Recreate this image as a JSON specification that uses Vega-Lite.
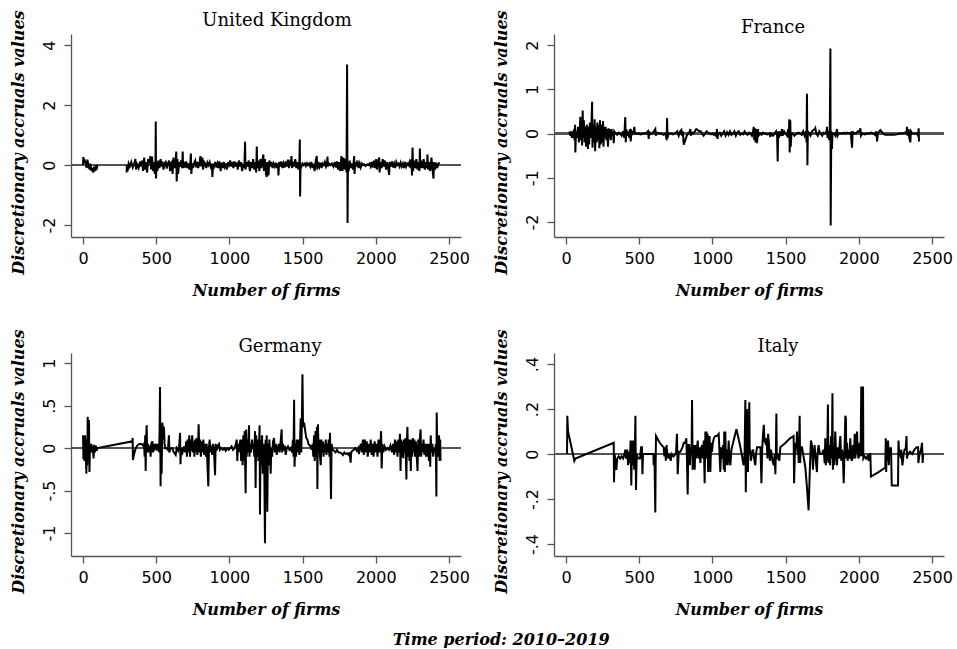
{
  "$schema": "https://vega.github.io/schema/vega-lite/v6.json",
  "background": "white",
  "padding": {"left": 9, "top": 9, "right": 0, "bottom": 0},
  "bounds": "flush",
  "columns": 2,
  "spacing": {"row": 116, "column": 93},
  "config": {
    "view": {"stroke": null},
    "axis": {
      "grid": false,
      "domainColor": "#555555",
      "domainWidth": 1.3,
      "tickColor": "#555555",
      "tickWidth": 1.3,
      "tickSize": 7,
      "labelFont": "DejaVu Sans",
      "labelFontSize": 16,
      "labelColor": "#000000",
      "titleFont": "DejaVu Serif",
      "titleFontSize": 16,
      "titleFontStyle": "italic",
      "titleFontWeight": "bold",
      "titleColor": "#000000"
    },
    "axisX": {"labelPadding": 6, "titlePadding": 16, "format": "d"},
    "axisY": {"labelAngle": -90, "labelAlign": "center", "labelBaseline": "bottom", "labelPadding": 7, "titlePadding": 15, "titleY": 108},
    "title": {"font": "DejaVu Serif", "fontSize": 18, "fontWeight": "normal", "color": "#000000", "anchor": "middle", "baseline": "alphabetic"}
  },
  "title": {"text": "Time period: 2010–2019", "orient": "bottom", "anchor": "middle", "dx": 20, "font": "DejaVu Serif", "fontSize": 16, "fontStyle": "italic", "fontWeight": "bold", "offset": 28, "baseline": "alphabetic"},
  "datasets": {
    "uk": [
      {"x":0,"y":0.0},{"x":2,"y":0.27},{"x":5,"y":0.1},{"x":12,"y":0.15},{"x":18,"y":0.05},{"x":25,"y":-0.1},{"x":30,"y":0.18},{"x":38,"y":-0.05},{"x":45,"y":-0.15},{"x":50,"y":0.05},{"x":58,"y":-0.2},{"x":65,"y":-0.1},{"x":70,"y":-0.25},{"x":75,"y":-0.05},{"x":82,"y":-0.2},{"x":88,"y":0.0},{"x":95,"y":-0.1},{"x":100,"y":0.0},
      {"x":150,"y":null},
      {"x":298,"y":-0.25},{"x":300,"y":0.0},{"x":305,"y":-0.2},{"x":312,"y":0.05},{"x":320,"y":-0.05},{"x":330,"y":0.1},{"x":340,"y":-0.08},{"x":350,"y":0.05},{"x":358,"y":0.2},{"x":362,"y":-0.15},{"x":370,"y":0.02},{"x":380,"y":-0.1},{"x":390,"y":0.12},{"x":398,"y":-0.05},{"x":405,"y":0.15},{"x":410,"y":-0.2},{"x":418,"y":0.25},{"x":422,"y":-0.15},{"x":430,"y":0.1},{"x":438,"y":-0.25},{"x":445,"y":0.2},{"x":452,"y":0.05},{"x":460,"y":0.3},{"x":465,"y":-0.15},{"x":472,"y":0.28},{"x":478,"y":-0.2},{"x":485,"y":0.1},{"x":490,"y":-0.3},{"x":495,"y":0.0},{"x":497,"y":1.45},{"x":499,"y":-0.45},{"x":502,"y":0.1},{"x":508,"y":-0.2},{"x":515,"y":0.15},{"x":522,"y":-0.1},{"x":530,"y":0.2},{"x":535,"y":-0.05},{"x":542,"y":0.12},{"x":550,"y":-0.15},{"x":557,"y":0.05},{"x":565,"y":0.1},{"x":572,"y":-0.12},{"x":580,"y":0.05},{"x":588,"y":0.15},{"x":595,"y":-0.2},{"x":600,"y":0.05},{"x":607,"y":0.1},{"x":612,"y":-0.3},{"x":618,"y":0.25},{"x":625,"y":-0.1},{"x":632,"y":0.1},{"x":637,"y":0.45},{"x":640,"y":-0.55},{"x":645,"y":0.2},{"x":650,"y":-0.3},{"x":657,"y":0.1},{"x":663,"y":-0.05},{"x":670,"y":0.15},{"x":677,"y":-0.1},{"x":681,"y":0.45},{"x":684,"y":-0.1},{"x":690,"y":0.1},{"x":697,"y":-0.08},{"x":705,"y":0.12},{"x":712,"y":-0.1},{"x":720,"y":0.05},{"x":727,"y":-0.15},{"x":733,"y":0.1},{"x":737,"y":0.38},{"x":740,"y":-0.3},{"x":745,"y":0.05},{"x":752,"y":-0.1},{"x":760,"y":0.08},{"x":767,"y":0.15},{"x":773,"y":-0.08},{"x":780,"y":0.1},{"x":787,"y":-0.1},{"x":795,"y":0.05},{"x":802,"y":0.3},{"x":808,"y":-0.05},{"x":815,"y":0.25},{"x":820,"y":-0.15},{"x":828,"y":0.1},{"x":835,"y":0.05},{"x":842,"y":-0.1},{"x":850,"y":0.08},{"x":857,"y":0.0},{"x":865,"y":0.1},{"x":872,"y":-0.05},{"x":880,"y":0.05},{"x":884,"y":-0.4},{"x":888,"y":0.05},{"x":895,"y":-0.05},{"x":903,"y":0.1},{"x":910,"y":-0.08},{"x":918,"y":0.05},{"x":925,"y":-0.1},{"x":932,"y":0.12},{"x":940,"y":-0.2},{"x":947,"y":0.08},{"x":955,"y":-0.1},{"x":962,"y":0.1},{"x":968,"y":-0.05},{"x":975,"y":0.05},{"x":982,"y":-0.15},{"x":990,"y":0.1},{"x":997,"y":0.0},{"x":1005,"y":0.15},{"x":1012,"y":-0.05},{"x":1020,"y":0.1},{"x":1027,"y":-0.1},{"x":1035,"y":0.12},{"x":1042,"y":-0.05},{"x":1050,"y":0.08},{"x":1057,"y":-0.15},{"x":1065,"y":0.15},{"x":1072,"y":-0.05},{"x":1080,"y":0.1},{"x":1087,"y":-0.2},{"x":1095,"y":0.05},{"x":1102,"y":-0.1},{"x":1107,"y":0.78},{"x":1110,"y":-0.15},{"x":1117,"y":0.1},{"x":1125,"y":-0.05},{"x":1132,"y":0.15},{"x":1140,"y":-0.2},{"x":1147,"y":0.1},{"x":1155,"y":-0.1},{"x":1162,"y":0.2},{"x":1170,"y":-0.15},{"x":1177,"y":0.1},{"x":1183,"y":-0.25},{"x":1187,"y":0.62},{"x":1190,"y":-0.1},{"x":1197,"y":0.15},{"x":1205,"y":-0.2},{"x":1212,"y":0.2},{"x":1218,"y":-0.1},{"x":1225,"y":0.15},{"x":1232,"y":0.35},{"x":1236,"y":-0.2},{"x":1243,"y":0.2},{"x":1250,"y":-0.3},{"x":1255,"y":-0.4},{"x":1260,"y":0.1},{"x":1267,"y":-0.35},{"x":1273,"y":0.15},{"x":1280,"y":-0.05},{"x":1287,"y":0.1},{"x":1295,"y":-0.1},{"x":1302,"y":0.05},{"x":1310,"y":-0.05},{"x":1317,"y":0.08},{"x":1325,"y":-0.1},{"x":1332,"y":0.05},{"x":1335,"y":-0.35},{"x":1340,"y":0.1},{"x":1347,"y":-0.05},{"x":1355,"y":0.12},{"x":1362,"y":-0.1},{"x":1370,"y":0.05},{"x":1377,"y":-0.08},{"x":1385,"y":0.12},{"x":1392,"y":-0.05},{"x":1400,"y":0.18},{"x":1407,"y":-0.1},{"x":1414,"y":0.08},{"x":1420,"y":0.0},{"x":1424,"y":0.3},{"x":1428,"y":-0.1},{"x":1435,"y":0.1},{"x":1442,"y":-0.05},{"x":1450,"y":0.2},{"x":1457,"y":-0.1},{"x":1465,"y":0.1},{"x":1472,"y":-0.15},{"x":1478,"y":0.1},{"x":1481,"y":0.85},{"x":1483,"y":-1.05},{"x":1486,"y":0.05},{"x":1492,"y":-0.05},{"x":1500,"y":0.05},{"x":1507,"y":0.0},{"x":1515,"y":0.05},{"x":1522,"y":-0.03},{"x":1530,"y":0.06},{"x":1537,"y":0.0},{"x":1545,"y":0.05},{"x":1552,"y":-0.05},{"x":1560,"y":0.1},{"x":1567,"y":-0.1},{"x":1575,"y":0.05},{"x":1582,"y":-0.2},{"x":1590,"y":0.15},{"x":1597,"y":0.3},{"x":1600,"y":-0.15},{"x":1607,"y":0.1},{"x":1615,"y":-0.05},{"x":1622,"y":0.08},{"x":1630,"y":-0.1},{"x":1637,"y":0.05},{"x":1645,"y":0.0},{"x":1652,"y":0.1},{"x":1660,"y":-0.05},{"x":1667,"y":0.05},{"x":1670,"y":0.28},{"x":1673,"y":-0.05},{"x":1680,"y":0.05},{"x":1690,"y":0.0},{"x":1700,"y":0.05},{"x":1710,"y":-0.05},{"x":1720,"y":0.1},{"x":1727,"y":-0.08},{"x":1735,"y":0.12},{"x":1742,"y":-0.15},{"x":1750,"y":0.1},{"x":1757,"y":-0.2},{"x":1765,"y":0.3},{"x":1772,"y":-0.2},{"x":1780,"y":0.25},{"x":1787,"y":-0.15},{"x":1795,"y":0.2},{"x":1800,"y":-0.25},{"x":1804,"y":3.35},{"x":1807,"y":-1.93},{"x":1810,"y":0.1},{"x":1815,"y":-0.2},{"x":1822,"y":0.15},{"x":1830,"y":-0.1},{"x":1837,"y":0.05},{"x":1845,"y":-0.15},{"x":1852,"y":0.3},{"x":1855,"y":-0.3},{"x":1860,"y":0.1},{"x":1867,"y":-0.05},{"x":1875,"y":0.15},{"x":1882,"y":-0.1},{"x":1890,"y":0.05},{"x":1897,"y":-0.08},{"x":1905,"y":0.05},{"x":1912,"y":0.0},{"x":1920,"y":0.03},{"x":1930,"y":-0.03},{"x":1940,"y":0.02},{"x":1950,"y":0.0},{"x":1957,"y":0.05},{"x":1965,"y":-0.05},{"x":1972,"y":0.1},{"x":1980,"y":-0.08},{"x":1987,"y":0.15},{"x":1995,"y":-0.1},{"x":2002,"y":0.2},{"x":2008,"y":-0.15},{"x":2015,"y":0.1},{"x":2023,"y":0.25},{"x":2026,"y":-0.25},{"x":2032,"y":0.1},{"x":2040,"y":-0.1},{"x":2047,"y":0.2},{"x":2055,"y":-0.05},{"x":2062,"y":0.15},{"x":2070,"y":-0.15},{"x":2077,"y":0.1},{"x":2085,"y":-0.1},{"x":2091,"y":-0.33},{"x":2095,"y":0.1},{"x":2102,"y":-0.05},{"x":2110,"y":0.12},{"x":2117,"y":-0.08},{"x":2125,"y":0.05},{"x":2132,"y":-0.1},{"x":2140,"y":0.1},{"x":2147,"y":0.0},{"x":2155,"y":0.05},{"x":2162,"y":-0.05},{"x":2170,"y":0.08},{"x":2177,"y":-0.05},{"x":2185,"y":0.05},{"x":2192,"y":-0.1},{"x":2200,"y":0.1},{"x":2207,"y":-0.05},{"x":2215,"y":0.05},{"x":2222,"y":0.0},{"x":2230,"y":0.1},{"x":2237,"y":-0.1},{"x":2244,"y":0.2},{"x":2247,"y":-0.35},{"x":2251,"y":0.58},{"x":2255,"y":-0.2},{"x":2262,"y":0.15},{"x":2270,"y":-0.1},{"x":2277,"y":0.2},{"x":2285,"y":-0.15},{"x":2292,"y":0.1},{"x":2298,"y":-0.2},{"x":2301,"y":0.55},{"x":2305,"y":-0.1},{"x":2312,"y":0.15},{"x":2320,"y":-0.1},{"x":2327,"y":0.2},{"x":2335,"y":-0.15},{"x":2342,"y":0.1},{"x":2350,"y":-0.1},{"x":2353,"y":0.35},{"x":2357,"y":-0.15},{"x":2365,"y":0.1},{"x":2372,"y":-0.2},{"x":2380,"y":0.25},{"x":2387,"y":-0.1},{"x":2394,"y":-0.45},{"x":2398,"y":0.1},{"x":2405,"y":-0.15},{"x":2412,"y":0.08},{"x":2420,"y":-0.1},{"x":2428,"y":0.05},{"x":2437,"y":0.08}
    ],
    "fr": [
      {"x":18,"y":0.0},{"x":25,"y":0.02},{"x":30,"y":-0.05},{"x":35,"y":0.05},{"x":40,"y":-0.1},{"x":45,"y":0.0},{"x":52,"y":0.05},{"x":58,"y":-0.15},{"x":62,"y":0.2},{"x":64,"y":-0.43},{"x":68,"y":0.05},{"x":75,"y":-0.1},{"x":82,"y":0.15},{"x":88,"y":-0.2},{"x":94,"y":0.1},{"x":98,"y":0.38},{"x":101,"y":-0.15},{"x":106,"y":0.25},{"x":110,"y":-0.27},{"x":114,"y":0.52},{"x":117,"y":-0.1},{"x":122,"y":0.3},{"x":127,"y":-0.2},{"x":132,"y":0.15},{"x":137,"y":-0.3},{"x":142,"y":0.2},{"x":146,"y":-0.1},{"x":150,"y":-0.35},{"x":154,"y":0.15},{"x":158,"y":-0.25},{"x":163,"y":0.25},{"x":168,"y":-0.1},{"x":173,"y":0.1},{"x":178,"y":0.72},{"x":181,"y":-0.32},{"x":185,"y":0.2},{"x":190,"y":-0.2},{"x":196,"y":0.32},{"x":199,"y":-0.4},{"x":204,"y":0.15},{"x":209,"y":-0.2},{"x":214,"y":0.25},{"x":219,"y":-0.15},{"x":224,"y":0.2},{"x":228,"y":-0.33},{"x":232,"y":0.3},{"x":237,"y":-0.25},{"x":242,"y":0.2},{"x":247,"y":-0.2},{"x":253,"y":0.28},{"x":256,"y":-0.3},{"x":261,"y":0.15},{"x":266,"y":-0.1},{"x":271,"y":0.15},{"x":276,"y":-0.15},{"x":281,"y":0.1},{"x":287,"y":-0.3},{"x":291,"y":0.12},{"x":296,"y":-0.1},{"x":301,"y":0.1},{"x":306,"y":-0.15},{"x":311,"y":0.1},{"x":316,"y":-0.05},{"x":321,"y":0.05},{"x":326,"y":-0.22},{"x":330,"y":0.05},{"x":340,"y":0.0},{"x":350,"y":-0.03},{"x":360,"y":0.02},{"x":370,"y":0.0},{"x":380,"y":-0.05},{"x":390,"y":0.05},{"x":398,"y":-0.1},{"x":402,"y":0.2},{"x":405,"y":0.37},{"x":408,"y":-0.2},{"x":412,"y":0.1},{"x":418,"y":-0.05},{"x":425,"y":0.05},{"x":432,"y":-0.1},{"x":437,"y":0.1},{"x":442,"y":-0.18},{"x":447,"y":0.05},{"x":455,"y":0.0},{"x":462,"y":0.05},{"x":467,"y":0.15},{"x":470,"y":0.0},{"x":480,"y":0.0},{"x":495,"y":0.0},{"x":510,"y":-0.02},{"x":530,"y":0.0},{"x":545,"y":0.0},{"x":560,"y":0.05},{"x":565,"y":-0.12},{"x":568,"y":0.05},{"x":575,"y":-0.02},{"x":590,"y":0.0},{"x":600,"y":0.05},{"x":610,"y":0.1},{"x":613,"y":-0.05},{"x":620,"y":0.02},{"x":635,"y":0.0},{"x":650,"y":0.0},{"x":665,"y":-0.03},{"x":680,"y":0.0},{"x":688,"y":-0.15},{"x":690,"y":0.35},{"x":694,"y":-0.1},{"x":700,"y":0.0},{"x":715,"y":0.0},{"x":730,"y":-0.02},{"x":745,"y":0.0},{"x":760,"y":0.05},{"x":770,"y":-0.05},{"x":780,"y":0.05},{"x":788,"y":0.08},{"x":792,"y":-0.05},{"x":798,"y":0.05},{"x":804,"y":-0.25},{"x":815,"y":-0.15},{"x":825,"y":-0.05},{"x":835,"y":0.0},{"x":845,"y":0.05},{"x":849,"y":0.1},{"x":853,"y":-0.05},{"x":860,"y":0.02},{"x":870,"y":0.0},{"x":880,"y":0.05},{"x":890,"y":0.1},{"x":900,"y":0.08},{"x":910,"y":0.05},{"x":920,"y":0.05},{"x":930,"y":0.0},{"x":940,"y":-0.05},{"x":950,"y":0.0},{"x":960,"y":0.05},{"x":970,"y":0.02},{"x":980,"y":0.0},{"x":990,"y":-0.02},{"x":1000,"y":0.0},{"x":1010,"y":-0.03},{"x":1020,"y":0.0},{"x":1027,"y":-0.08},{"x":1031,"y":0.1},{"x":1035,"y":-0.12},{"x":1040,"y":0.0},{"x":1050,"y":0.02},{"x":1060,"y":-0.05},{"x":1070,"y":0.0},{"x":1080,"y":0.05},{"x":1090,"y":-0.05},{"x":1100,"y":0.03},{"x":1110,"y":-0.03},{"x":1120,"y":0.05},{"x":1130,"y":-0.03},{"x":1140,"y":0.0},{"x":1150,"y":0.05},{"x":1160,"y":-0.05},{"x":1170,"y":0.02},{"x":1180,"y":0.05},{"x":1190,"y":-0.03},{"x":1200,"y":0.0},{"x":1210,"y":-0.02},{"x":1220,"y":0.05},{"x":1230,"y":0.0},{"x":1240,"y":-0.03},{"x":1250,"y":0.02},{"x":1260,"y":0.0},{"x":1270,"y":-0.05},{"x":1278,"y":0.05},{"x":1282,"y":0.15},{"x":1286,"y":-0.15},{"x":1290,"y":0.12},{"x":1295,"y":-0.2},{"x":1300,"y":0.1},{"x":1305,"y":-0.22},{"x":1311,"y":0.1},{"x":1315,"y":-0.05},{"x":1325,"y":0.0},{"x":1335,"y":-0.03},{"x":1345,"y":0.02},{"x":1360,"y":0.0},{"x":1375,"y":-0.02},{"x":1390,"y":0.0},{"x":1396,"y":-0.08},{"x":1402,"y":0.0},{"x":1415,"y":-0.05},{"x":1425,"y":0.0},{"x":1435,"y":0.05},{"x":1442,"y":-0.05},{"x":1446,"y":-0.63},{"x":1449,"y":0.05},{"x":1455,"y":-0.1},{"x":1462,"y":0.05},{"x":1470,"y":-0.05},{"x":1475,"y":0.1},{"x":1480,"y":-0.05},{"x":1490,"y":0.05},{"x":1500,"y":0.0},{"x":1510,"y":-0.05},{"x":1518,"y":0.1},{"x":1522,"y":-0.1},{"x":1525,"y":0.32},{"x":1528,"y":-0.43},{"x":1532,"y":0.3},{"x":1535,"y":-0.3},{"x":1540,"y":0.0},{"x":1550,"y":0.0},{"x":1560,"y":-0.05},{"x":1575,"y":0.0},{"x":1590,"y":0.02},{"x":1600,"y":0.0},{"x":1610,"y":-0.03},{"x":1620,"y":0.05},{"x":1630,"y":-0.05},{"x":1640,"y":0.05},{"x":1643,"y":-0.2},{"x":1646,"y":0.9},{"x":1649,"y":-0.72},{"x":1652,"y":0.05},{"x":1660,"y":0.0},{"x":1670,"y":-0.05},{"x":1680,"y":0.05},{"x":1690,"y":0.08},{"x":1700,"y":0.1},{"x":1703,"y":0.12},{"x":1710,"y":0.0},{"x":1720,"y":-0.05},{"x":1730,"y":0.05},{"x":1740,"y":0.0},{"x":1750,"y":-0.05},{"x":1760,"y":0.02},{"x":1770,"y":0.0},{"x":1780,"y":0.05},{"x":1783,"y":0.15},{"x":1786,"y":-0.1},{"x":1792,"y":0.05},{"x":1798,"y":-0.15},{"x":1802,"y":0.1},{"x":1806,"y":1.92},{"x":1808,"y":-2.08},{"x":1812,"y":0.05},{"x":1817,"y":-0.35},{"x":1820,"y":0.0},{"x":1830,"y":0.0},{"x":1840,"y":-0.05},{"x":1851,"y":0.1},{"x":1855,"y":-0.05},{"x":1862,"y":0.0},{"x":1875,"y":0.0},{"x":1890,"y":0.0},{"x":1900,"y":0.02},{"x":1910,"y":0.0},{"x":1920,"y":0.02},{"x":1935,"y":0.0},{"x":1945,"y":0.02},{"x":1954,"y":-0.32},{"x":1958,"y":0.05},{"x":1965,"y":0.0},{"x":1980,"y":0.0},{"x":1995,"y":0.05},{"x":2005,"y":0.05},{"x":2011,"y":0.12},{"x":2015,"y":-0.05},{"x":2025,"y":0.0},{"x":2040,"y":-0.02},{"x":2055,"y":0.0},{"x":2070,"y":0.0},{"x":2085,"y":0.02},{"x":2100,"y":0.0},{"x":2110,"y":-0.03},{"x":2120,"y":0.05},{"x":2125,"y":-0.18},{"x":2130,"y":0.0},{"x":2140,"y":0.05},{"x":2147,"y":0.08},{"x":2155,"y":0.05},{"x":2165,"y":0.0},{"x":2180,"y":-0.03},{"x":2200,"y":-0.03},{"x":2220,"y":-0.03},{"x":2240,"y":-0.03},{"x":2260,"y":-0.02},{"x":2280,"y":0.0},{"x":2300,"y":0.0},{"x":2315,"y":0.02},{"x":2325,"y":0.0},{"x":2329,"y":0.15},{"x":2333,"y":-0.05},{"x":2340,"y":0.1},{"x":2345,"y":-0.1},{"x":2352,"y":-0.2},{"x":2356,"y":0.05},{"x":2365,"y":0.0},{"x":2380,"y":0.0},{"x":2395,"y":0.0},{"x":2405,"y":-0.05},{"x":2409,"y":0.12},{"x":2411,"y":-0.18}
    ],
    "de": [
      {"x":0,"y":0.15},{"x":3,"y":-0.13},{"x":7,"y":0.12},{"x":10,"y":-0.15},{"x":14,"y":0.15},{"x":18,"y":-0.05},{"x":23,"y":-0.3},{"x":26,"y":0.1},{"x":29,"y":-0.2},{"x":32,"y":0.37},{"x":35,"y":-0.1},{"x":38,"y":0.2},{"x":41,"y":0.33},{"x":44,"y":-0.28},{"x":48,"y":0.05},{"x":52,"y":-0.05},{"x":57,"y":0.05},{"x":62,"y":-0.05},{"x":67,"y":0.03},{"x":72,"y":-0.12},{"x":77,"y":0.04},{"x":82,"y":-0.05},{"x":88,"y":0.03},{"x":93,"y":-0.03},{"x":98,"y":0.0},{"x":337,"y":0.08},{"x":339,"y":0.12},{"x":341,"y":-0.14},{"x":345,"y":-0.1},{"x":352,"y":-0.05},{"x":360,"y":0.0},{"x":370,"y":0.03},{"x":385,"y":0.05},{"x":400,"y":0.05},{"x":410,"y":0.03},{"x":417,"y":0.05},{"x":421,"y":-0.1},{"x":425,"y":0.15},{"x":428,"y":-0.27},{"x":431,"y":0.1},{"x":435,"y":0.27},{"x":438,"y":-0.05},{"x":444,"y":0.05},{"x":450,"y":-0.05},{"x":456,"y":0.03},{"x":462,"y":-0.1},{"x":466,"y":0.05},{"x":474,"y":0.08},{"x":478,"y":-0.05},{"x":485,"y":0.05},{"x":492,"y":0.0},{"x":500,"y":0.05},{"x":507,"y":-0.03},{"x":515,"y":0.05},{"x":520,"y":-0.05},{"x":523,"y":0.2},{"x":526,"y":0.72},{"x":530,"y":-0.45},{"x":533,"y":0.25},{"x":537,"y":-0.3},{"x":542,"y":0.3},{"x":546,"y":0.22},{"x":550,"y":0.1},{"x":553,"y":0.25},{"x":557,"y":0.05},{"x":562,"y":0.0},{"x":570,"y":0.0},{"x":580,"y":-0.02},{"x":587,"y":0.15},{"x":590,"y":-0.05},{"x":598,"y":0.0},{"x":610,"y":0.0},{"x":620,"y":-0.05},{"x":633,"y":-0.08},{"x":640,"y":0.0},{"x":650,"y":-0.03},{"x":658,"y":0.05},{"x":663,"y":0.18},{"x":666,"y":-0.19},{"x":670,"y":0.0},{"x":680,"y":-0.05},{"x":690,"y":0.02},{"x":698,"y":-0.05},{"x":705,"y":0.08},{"x":710,"y":-0.1},{"x":715,"y":0.1},{"x":720,"y":-0.05},{"x":726,"y":0.15},{"x":731,"y":-0.1},{"x":736,"y":0.1},{"x":741,"y":-0.03},{"x":746,"y":0.15},{"x":751,"y":-0.05},{"x":756,"y":0.08},{"x":761,"y":-0.1},{"x":766,"y":0.1},{"x":771,"y":-0.05},{"x":776,"y":0.12},{"x":781,"y":-0.08},{"x":786,"y":0.05},{"x":790,"y":0.28},{"x":794,"y":-0.05},{"x":799,"y":0.1},{"x":805,"y":-0.1},{"x":810,"y":0.08},{"x":816,"y":-0.05},{"x":822,"y":0.1},{"x":828,"y":-0.08},{"x":834,"y":0.05},{"x":840,"y":-0.1},{"x":845,"y":0.05},{"x":850,"y":-0.2},{"x":856,"y":-0.45},{"x":860,"y":0.0},{"x":865,"y":0.1},{"x":870,"y":-0.05},{"x":876,"y":0.03},{"x":882,"y":-0.08},{"x":888,"y":0.05},{"x":895,"y":-0.05},{"x":902,"y":-0.32},{"x":906,"y":0.05},{"x":912,"y":-0.03},{"x":920,"y":0.03},{"x":929,"y":0.05},{"x":935,"y":-0.02},{"x":945,"y":0.0},{"x":955,"y":-0.02},{"x":965,"y":0.0},{"x":975,"y":-0.03},{"x":985,"y":0.0},{"x":995,"y":-0.02},{"x":1005,"y":0.0},{"x":1015,"y":0.02},{"x":1025,"y":-0.02},{"x":1035,"y":0.0},{"x":1045,"y":0.05},{"x":1050,"y":0.1},{"x":1054,"y":-0.15},{"x":1058,"y":0.05},{"x":1062,"y":-0.05},{"x":1068,"y":0.02},{"x":1075,"y":0.1},{"x":1080,"y":-0.15},{"x":1085,"y":0.1},{"x":1090,"y":-0.2},{"x":1095,"y":0.15},{"x":1100,"y":-0.15},{"x":1104,"y":0.2},{"x":1108,"y":-0.25},{"x":1111,"y":-0.53},{"x":1114,"y":0.22},{"x":1118,"y":-0.1},{"x":1123,"y":0.1},{"x":1128,"y":-0.05},{"x":1134,"y":0.27},{"x":1137,"y":-0.1},{"x":1142,"y":0.05},{"x":1148,"y":-0.05},{"x":1155,"y":0.1},{"x":1160,"y":0.0},{"x":1165,"y":0.05},{"x":1170,"y":-0.1},{"x":1175,"y":0.2},{"x":1179,"y":-0.47},{"x":1183,"y":0.15},{"x":1188,"y":-0.1},{"x":1193,"y":0.1},{"x":1198,"y":-0.15},{"x":1203,"y":0.05},{"x":1206,"y":0.27},{"x":1209,"y":-0.78},{"x":1213,"y":0.1},{"x":1218,"y":-0.2},{"x":1223,"y":0.15},{"x":1228,"y":-0.3},{"x":1233,"y":0.05},{"x":1238,"y":-0.2},{"x":1243,"y":-1.12},{"x":1247,"y":0.1},{"x":1251,"y":-0.3},{"x":1255,"y":0.15},{"x":1259,"y":-0.75},{"x":1263,"y":0.05},{"x":1268,"y":-0.2},{"x":1273,"y":0.1},{"x":1278,"y":-0.1},{"x":1282,"y":-0.3},{"x":1286,"y":0.0},{"x":1292,"y":-0.1},{"x":1298,"y":0.08},{"x":1305,"y":0.12},{"x":1310,"y":-0.05},{"x":1317,"y":0.05},{"x":1323,"y":-0.08},{"x":1330,"y":0.0},{"x":1337,"y":0.05},{"x":1343,"y":-0.05},{"x":1350,"y":0.08},{"x":1357,"y":0.22},{"x":1360,"y":-0.05},{"x":1366,"y":0.05},{"x":1372,"y":-0.03},{"x":1378,"y":0.03},{"x":1385,"y":-0.08},{"x":1392,"y":0.0},{"x":1400,"y":0.02},{"x":1410,"y":-0.02},{"x":1420,"y":0.0},{"x":1428,"y":-0.05},{"x":1434,"y":0.1},{"x":1438,"y":-0.1},{"x":1442,"y":0.57},{"x":1445,"y":-0.22},{"x":1450,"y":0.05},{"x":1455,"y":-0.1},{"x":1460,"y":0.1},{"x":1466,"y":-0.05},{"x":1472,"y":0.1},{"x":1478,"y":-0.08},{"x":1483,"y":0.1},{"x":1487,"y":0.35},{"x":1491,"y":-0.05},{"x":1495,"y":0.3},{"x":1499,"y":0.87},{"x":1503,"y":0.25},{"x":1510,"y":0.3},{"x":1518,"y":0.2},{"x":1525,"y":0.12},{"x":1533,"y":0.1},{"x":1540,"y":0.05},{"x":1548,"y":0.03},{"x":1555,"y":0.02},{"x":1562,"y":-0.02},{"x":1568,"y":0.05},{"x":1573,"y":-0.1},{"x":1578,"y":0.15},{"x":1583,"y":-0.15},{"x":1588,"y":0.2},{"x":1593,"y":-0.1},{"x":1598,"y":0.25},{"x":1601,"y":-0.48},{"x":1605,"y":0.28},{"x":1609,"y":-0.05},{"x":1614,"y":0.1},{"x":1619,"y":-0.1},{"x":1624,"y":-0.2},{"x":1628,"y":0.1},{"x":1633,"y":-0.05},{"x":1638,"y":0.08},{"x":1643,"y":-0.1},{"x":1648,"y":0.05},{"x":1653,"y":-0.05},{"x":1658,"y":0.1},{"x":1663,"y":-0.08},{"x":1668,"y":0.05},{"x":1673,"y":-0.05},{"x":1678,"y":0.1},{"x":1683,"y":-0.1},{"x":1687,"y":0.18},{"x":1690,"y":-0.1},{"x":1694,"y":-0.6},{"x":1698,"y":0.05},{"x":1705,"y":-0.02},{"x":1715,"y":-0.03},{"x":1725,"y":-0.05},{"x":1735,"y":-0.02},{"x":1745,"y":-0.05},{"x":1755,"y":-0.05},{"x":1765,"y":-0.06},{"x":1775,"y":-0.08},{"x":1785,"y":-0.05},{"x":1795,"y":-0.07},{"x":1805,"y":-0.06},{"x":1815,"y":-0.08},{"x":1822,"y":-0.05},{"x":1828,"y":-0.17},{"x":1832,"y":-0.05},{"x":1840,"y":-0.03},{"x":1850,"y":-0.02},{"x":1860,"y":0.0},{"x":1870,"y":-0.03},{"x":1880,"y":0.0},{"x":1885,"y":-0.07},{"x":1890,"y":0.0},{"x":1898,"y":0.05},{"x":1905,"y":-0.05},{"x":1912,"y":0.1},{"x":1918,"y":-0.08},{"x":1925,"y":0.1},{"x":1932,"y":-0.05},{"x":1938,"y":0.08},{"x":1945,"y":-0.1},{"x":1952,"y":0.05},{"x":1958,"y":-0.05},{"x":1965,"y":0.1},{"x":1972,"y":-0.08},{"x":1978,"y":0.05},{"x":1985,"y":-0.1},{"x":1992,"y":0.08},{"x":1998,"y":-0.05},{"x":2005,"y":0.05},{"x":2012,"y":-0.1},{"x":2018,"y":0.1},{"x":2025,"y":-0.05},{"x":2032,"y":0.05},{"x":2036,"y":0.2},{"x":2040,"y":-0.24},{"x":2045,"y":0.05},{"x":2052,"y":-0.05},{"x":2060,"y":0.02},{"x":2070,"y":-0.02},{"x":2080,"y":0.0},{"x":2090,"y":-0.02},{"x":2100,"y":0.03},{"x":2110,"y":-0.05},{"x":2118,"y":0.05},{"x":2125,"y":-0.08},{"x":2131,"y":0.1},{"x":2136,"y":-0.05},{"x":2142,"y":0.08},{"x":2148,"y":-0.1},{"x":2154,"y":0.1},{"x":2160,"y":-0.05},{"x":2165,"y":0.17},{"x":2169,"y":-0.27},{"x":2173,"y":0.1},{"x":2178,"y":-0.1},{"x":2183,"y":0.08},{"x":2188,"y":-0.12},{"x":2193,"y":0.1},{"x":2198,"y":-0.05},{"x":2203,"y":0.12},{"x":2209,"y":-0.37},{"x":2212,"y":0.05},{"x":2216,"y":0.25},{"x":2220,"y":-0.1},{"x":2225,"y":0.1},{"x":2230,"y":-0.15},{"x":2235,"y":0.1},{"x":2239,"y":-0.27},{"x":2243,"y":0.1},{"x":2248,"y":-0.1},{"x":2253,"y":0.12},{"x":2258,"y":-0.05},{"x":2263,"y":0.1},{"x":2268,"y":-0.1},{"x":2273,"y":0.08},{"x":2278,"y":-0.05},{"x":2285,"y":-0.27},{"x":2290,"y":0.1},{"x":2295,"y":-0.1},{"x":2300,"y":0.1},{"x":2306,"y":0.22},{"x":2310,"y":-0.1},{"x":2315,"y":0.05},{"x":2320,"y":-0.05},{"x":2326,"y":0.1},{"x":2332,"y":-0.08},{"x":2338,"y":0.05},{"x":2343,"y":-0.1},{"x":2348,"y":0.05},{"x":2353,"y":-0.1},{"x":2358,"y":0.05},{"x":2363,"y":-0.15},{"x":2368,"y":0.05},{"x":2372,"y":-0.22},{"x":2375,"y":0.15},{"x":2380,"y":-0.05},{"x":2386,"y":0.05},{"x":2392,"y":-0.1},{"x":2398,"y":0.0},{"x":2405,"y":-0.05},{"x":2410,"y":0.05},{"x":2414,"y":-0.57},{"x":2416,"y":0.42},{"x":2420,"y":-0.05},{"x":2425,"y":0.05},{"x":2428,"y":-0.1},{"x":2432,"y":0.15},{"x":2436,"y":-0.15},{"x":2440,"y":0.1},{"x":2442,"y":-0.15}
    ],
    "it": [
      {"x":7,"y":0.0},{"x":9,"y":0.17},{"x":14,"y":0.1},{"x":57,"y":-0.03},{"x":64,"y":-0.02},{"x":326,"y":0.05},{"x":328,"y":-0.125},{"x":332,"y":0.0},{"x":337,"y":-0.03},{"x":344,"y":-0.07},{"x":350,"y":-0.02},{"x":360,"y":-0.01},{"x":370,"y":-0.02},{"x":380,"y":-0.01},{"x":390,"y":-0.02},{"x":400,"y":0.0},{"x":405,"y":0.02},{"x":410,"y":-0.02},{"x":418,"y":0.02},{"x":424,"y":-0.05},{"x":430,"y":0.01},{"x":436,"y":-0.04},{"x":441,"y":0.06},{"x":446,"y":-0.14},{"x":451,"y":0.06},{"x":456,"y":-0.05},{"x":462,"y":0.06},{"x":466,"y":-0.07},{"x":470,"y":0.0},{"x":474,"y":0.17},{"x":478,"y":-0.16},{"x":483,"y":0.0},{"x":490,"y":-0.02},{"x":496,"y":-0.02},{"x":505,"y":-0.02},{"x":513,"y":0.03},{"x":519,"y":0.03},{"x":522,"y":-0.09},{"x":526,"y":0.0},{"x":540,"y":0.0},{"x":560,"y":0.0},{"x":580,"y":0.0},{"x":597,"y":0.0},{"x":599,"y":-0.05},{"x":604,"y":0.0},{"x":610,"y":-0.26},{"x":613,"y":0.0},{"x":615,"y":0.08},{"x":640,"y":0.05},{"x":667,"y":0.03},{"x":672,"y":-0.01},{"x":678,"y":0.03},{"x":682,"y":-0.03},{"x":687,"y":0.04},{"x":690,"y":0.01},{"x":700,"y":-0.02},{"x":708,"y":0.0},{"x":715,"y":-0.03},{"x":722,"y":0.0},{"x":735,"y":-0.01},{"x":747,"y":0.0},{"x":752,"y":0.01},{"x":758,"y":0.09},{"x":763,"y":-0.09},{"x":770,"y":0.01},{"x":781,"y":0.01},{"x":795,"y":0.03},{"x":805,"y":0.05},{"x":815,"y":0.05},{"x":822,"y":0.07},{"x":826,"y":-0.02},{"x":831,"y":-0.18},{"x":836,"y":0.04},{"x":842,"y":0.04},{"x":846,"y":-0.05},{"x":852,"y":0.03},{"x":858,"y":0.0},{"x":861,"y":0.24},{"x":865,"y":-0.07},{"x":870,"y":0.04},{"x":875,"y":0.0},{"x":879,"y":-0.07},{"x":884,"y":0.04},{"x":890,"y":-0.02},{"x":895,"y":0.03},{"x":900,"y":0.06},{"x":906,"y":-0.02},{"x":912,"y":0.03},{"x":918,"y":-0.04},{"x":923,"y":0.02},{"x":929,"y":0.04},{"x":935,"y":-0.02},{"x":941,"y":0.06},{"x":947,"y":-0.13},{"x":952,"y":0.1},{"x":956,"y":0.02},{"x":960,"y":0.1},{"x":963,"y":-0.02},{"x":967,"y":0.09},{"x":971,"y":-0.08},{"x":975,"y":0.08},{"x":978,"y":-0.05},{"x":981,"y":0.08},{"x":986,"y":-0.08},{"x":991,"y":0.05},{"x":997,"y":0.01},{"x":1003,"y":0.05},{"x":1010,"y":0.07},{"x":1020,"y":0.08},{"x":1030,"y":0.08},{"x":1043,"y":0.09},{"x":1049,"y":0.0},{"x":1054,"y":-0.08},{"x":1060,"y":0.03},{"x":1066,"y":-0.02},{"x":1072,"y":0.04},{"x":1078,"y":-0.07},{"x":1081,"y":0.1},{"x":1085,"y":-0.08},{"x":1088,"y":0.1},{"x":1093,"y":-0.05},{"x":1100,"y":0.02},{"x":1105,"y":-0.05},{"x":1111,"y":0.06},{"x":1117,"y":-0.02},{"x":1123,"y":-0.05},{"x":1130,"y":0.02},{"x":1145,"y":0.06},{"x":1164,"y":0.11},{"x":1185,"y":0.05},{"x":1200,"y":0.0},{"x":1213,"y":-0.05},{"x":1220,"y":0.0},{"x":1225,"y":0.24},{"x":1228,"y":-0.17},{"x":1232,"y":0.05},{"x":1236,"y":0.2},{"x":1240,"y":0.0},{"x":1243,"y":-0.08},{"x":1248,"y":0.1},{"x":1252,"y":0.23},{"x":1255,"y":0.0},{"x":1259,"y":0.02},{"x":1263,"y":-0.03},{"x":1270,"y":0.0},{"x":1278,"y":0.02},{"x":1285,"y":-0.02},{"x":1293,"y":-0.05},{"x":1298,"y":0.0},{"x":1305,"y":0.03},{"x":1315,"y":0.03},{"x":1320,"y":0.03},{"x":1328,"y":0.03},{"x":1335,"y":-0.13},{"x":1340,"y":0.02},{"x":1345,"y":0.08},{"x":1351,"y":0.13},{"x":1356,"y":0.06},{"x":1362,"y":0.05},{"x":1370,"y":0.07},{"x":1376,"y":-0.02},{"x":1380,"y":0.09},{"x":1386,"y":0.05},{"x":1392,"y":-0.03},{"x":1400,"y":0.02},{"x":1410,"y":-0.03},{"x":1419,"y":-0.05},{"x":1425,"y":0.0},{"x":1430,"y":-0.09},{"x":1434,"y":0.02},{"x":1437,"y":0.18},{"x":1440,"y":-0.02},{"x":1444,"y":-0.02},{"x":1450,"y":0.0},{"x":1457,"y":-0.03},{"x":1464,"y":0.03},{"x":1500,"y":0.05},{"x":1530,"y":0.07},{"x":1555,"y":0.08},{"x":1558,"y":-0.13},{"x":1563,"y":0.0},{"x":1570,"y":0.05},{"x":1575,"y":0.03},{"x":1578,"y":0.1},{"x":1582,"y":0.0},{"x":1585,"y":0.05},{"x":1590,"y":-0.04},{"x":1596,"y":0.17},{"x":1599,"y":-0.04},{"x":1604,"y":0.03},{"x":1612,"y":0.03},{"x":1620,"y":0.0},{"x":1635,"y":-0.06},{"x":1645,"y":-0.14},{"x":1657,"y":-0.25},{"x":1665,"y":-0.08},{"x":1673,"y":0.06},{"x":1680,"y":0.04},{"x":1687,"y":-0.07},{"x":1692,"y":0.0},{"x":1698,"y":0.04},{"x":1705,"y":-0.02},{"x":1714,"y":-0.08},{"x":1718,"y":0.0},{"x":1725,"y":0.04},{"x":1735,"y":0.0},{"x":1748,"y":0.0},{"x":1760,"y":0.02},{"x":1767,"y":-0.04},{"x":1771,"y":0.07},{"x":1775,"y":-0.05},{"x":1780,"y":0.05},{"x":1784,"y":-0.03},{"x":1789,"y":0.22},{"x":1793,"y":-0.04},{"x":1798,"y":0.04},{"x":1804,"y":-0.05},{"x":1811,"y":0.08},{"x":1816,"y":-0.02},{"x":1820,"y":0.27},{"x":1823,"y":-0.07},{"x":1826,"y":0.02},{"x":1832,"y":-0.05},{"x":1839,"y":0.1},{"x":1845,"y":0.0},{"x":1851,"y":-0.05},{"x":1858,"y":0.03},{"x":1865,"y":-0.02},{"x":1870,"y":0.05},{"x":1874,"y":0.08},{"x":1880,"y":-0.03},{"x":1886,"y":0.02},{"x":1892,"y":-0.03},{"x":1897,"y":-0.13},{"x":1902,"y":0.0},{"x":1908,"y":0.17},{"x":1912,"y":0.16},{"x":1915,"y":-0.02},{"x":1920,"y":0.05},{"x":1924,"y":-0.03},{"x":1930,"y":0.02},{"x":1936,"y":-0.02},{"x":1942,"y":0.07},{"x":1948,"y":-0.02},{"x":1954,"y":-0.03},{"x":1960,"y":0.04},{"x":1966,"y":-0.02},{"x":1972,"y":0.09},{"x":1976,"y":-0.02},{"x":1982,"y":0.05},{"x":1988,"y":0.1},{"x":1993,"y":0.0},{"x":1999,"y":-0.02},{"x":2005,"y":0.05},{"x":2012,"y":-0.01},{"x":2017,"y":0.3},{"x":2020,"y":-0.01},{"x":2024,"y":0.3},{"x":2027,"y":0.0},{"x":2029,"y":0.3},{"x":2031,"y":-0.02},{"x":2040,"y":-0.01},{"x":2050,"y":-0.02},{"x":2060,"y":-0.01},{"x":2068,"y":-0.03},{"x":2074,"y":0.0},{"x":2079,"y":0.0},{"x":2083,"y":-0.1},{"x":2135,"y":-0.08},{"x":2181,"y":-0.06},{"x":2184,"y":0.07},{"x":2187,"y":-0.08},{"x":2191,"y":0.06},{"x":2195,"y":-0.03},{"x":2200,"y":0.06},{"x":2205,"y":-0.05},{"x":2209,"y":0.03},{"x":2214,"y":0.0},{"x":2220,"y":0.03},{"x":2225,"y":-0.14},{"x":2268,"y":-0.14},{"x":2271,"y":0.06},{"x":2276,"y":0.0},{"x":2284,"y":-0.01},{"x":2290,"y":0.02},{"x":2298,"y":-0.05},{"x":2306,"y":0.0},{"x":2313,"y":0.02},{"x":2320,"y":0.02},{"x":2326,"y":0.08},{"x":2329,"y":-0.02},{"x":2335,"y":0.0},{"x":2350,"y":0.01},{"x":2365,"y":0.0},{"x":2380,"y":0.02},{"x":2395,"y":0.03},{"x":2405,"y":0.03},{"x":2407,"y":-0.04},{"x":2414,"y":0.0},{"x":2425,"y":0.02},{"x":2432,"y":0.05},{"x":2436,"y":-0.04},{"x":2440,"y":0.0}
    ]
  },
  "concat": [
    {
      "width": 390, "height": 203,
      "title": {"text": "United Kingdom", "dx": 11, "offset": -20},
      "data": {"name": "uk"},
      "layer": [
        {"mark": {"type": "rule", "color": "#555555", "strokeWidth": 1.3}, "encoding": {"y": {"datum": 0, "type": "quantitative"}}},
        {"mark": {"type": "line", "color": "#000000", "strokeWidth": 2, "strokeJoin": "miter"},
         "encoding": {
           "x": {"field": "x", "type": "quantitative", "scale": {"domain": [-82, 2582], "nice": false, "zero": false}, "axis": {"values": [0, 500, 1000, 1500, 2000, 2500], "title": "Number of firms"}},
           "y": {"field": "y", "type": "quantitative", "scale": {"domain": [-2.4, 4.37], "nice": false, "zero": false}, "axis": {"values": [-2, 0, 2, 4], "title": "Discretionary accruals values", "labelExpr": "replace(toString(datum.value), '0.', '.')"}}
         }}
      ]
    },
    {
      "width": 390, "height": 203,
      "title": {"text": "France", "dx": 24, "offset": -27},
      "data": {"name": "fr"},
      "layer": [
        {"mark": {"type": "rule", "color": "#555555", "strokeWidth": 1.3}, "encoding": {"y": {"datum": 0, "type": "quantitative"}}},
        {"mark": {"type": "line", "color": "#000000", "strokeWidth": 2, "strokeJoin": "miter"},
         "encoding": {
           "x": {"field": "x", "type": "quantitative", "scale": {"domain": [-82, 2582], "nice": false, "zero": false}, "axis": {"values": [0, 500, 1000, 1500, 2000, 2500], "title": "Number of firms"}},
           "y": {"field": "y", "type": "quantitative", "scale": {"domain": [-2.34, 2.25], "nice": false, "zero": false}, "axis": {"values": [-2, -1, 0, 1, 2], "title": "Discretionary accruals values", "labelExpr": "replace(toString(datum.value), '0.', '.')"}}
         }}
      ]
    },
    {
      "width": 390, "height": 203,
      "title": {"text": "Germany", "dx": 14, "offset": -27},
      "data": {"name": "de"},
      "layer": [
        {"mark": {"type": "rule", "color": "#555555", "strokeWidth": 1.3}, "encoding": {"y": {"datum": 0, "type": "quantitative"}}},
        {"mark": {"type": "line", "color": "#000000", "strokeWidth": 2, "strokeJoin": "miter"},
         "encoding": {
           "x": {"field": "x", "type": "quantitative", "scale": {"domain": [-82, 2582], "nice": false, "zero": false}, "axis": {"values": [0, 500, 1000, 1500, 2000, 2500], "title": "Number of firms"}},
           "y": {"field": "y", "type": "quantitative", "scale": {"domain": [-1.27, 1.12], "nice": false, "zero": false}, "axis": {"values": [-1, -0.5, 0, 0.5, 1], "title": "Discretionary accruals values", "labelExpr": "replace(toString(datum.value), '0.', '.')"}}
         }}
      ]
    },
    {
      "width": 390, "height": 203,
      "title": {"text": "Italy", "dx": 29, "offset": -27},
      "data": {"name": "it"},
      "layer": [
        {"mark": {"type": "rule", "color": "#555555", "strokeWidth": 1.3}, "encoding": {"y": {"datum": 0, "type": "quantitative"}}},
        {"mark": {"type": "line", "color": "#000000", "strokeWidth": 2, "strokeJoin": "miter"},
         "encoding": {
           "x": {"field": "x", "type": "quantitative", "scale": {"domain": [-82, 2582], "nice": false, "zero": false}, "axis": {"values": [0, 500, 1000, 1500, 2000, 2500], "title": "Number of firms"}},
           "y": {"field": "y", "type": "quantitative", "scale": {"domain": [-0.453, 0.449], "nice": false, "zero": false}, "axis": {"values": [-0.4, -0.2, 0, 0.2, 0.4], "title": "Discretionary accruals values", "labelExpr": "replace(toString(datum.value), '0.', '.')"}}
         }}
      ]
    }
  ]
}
